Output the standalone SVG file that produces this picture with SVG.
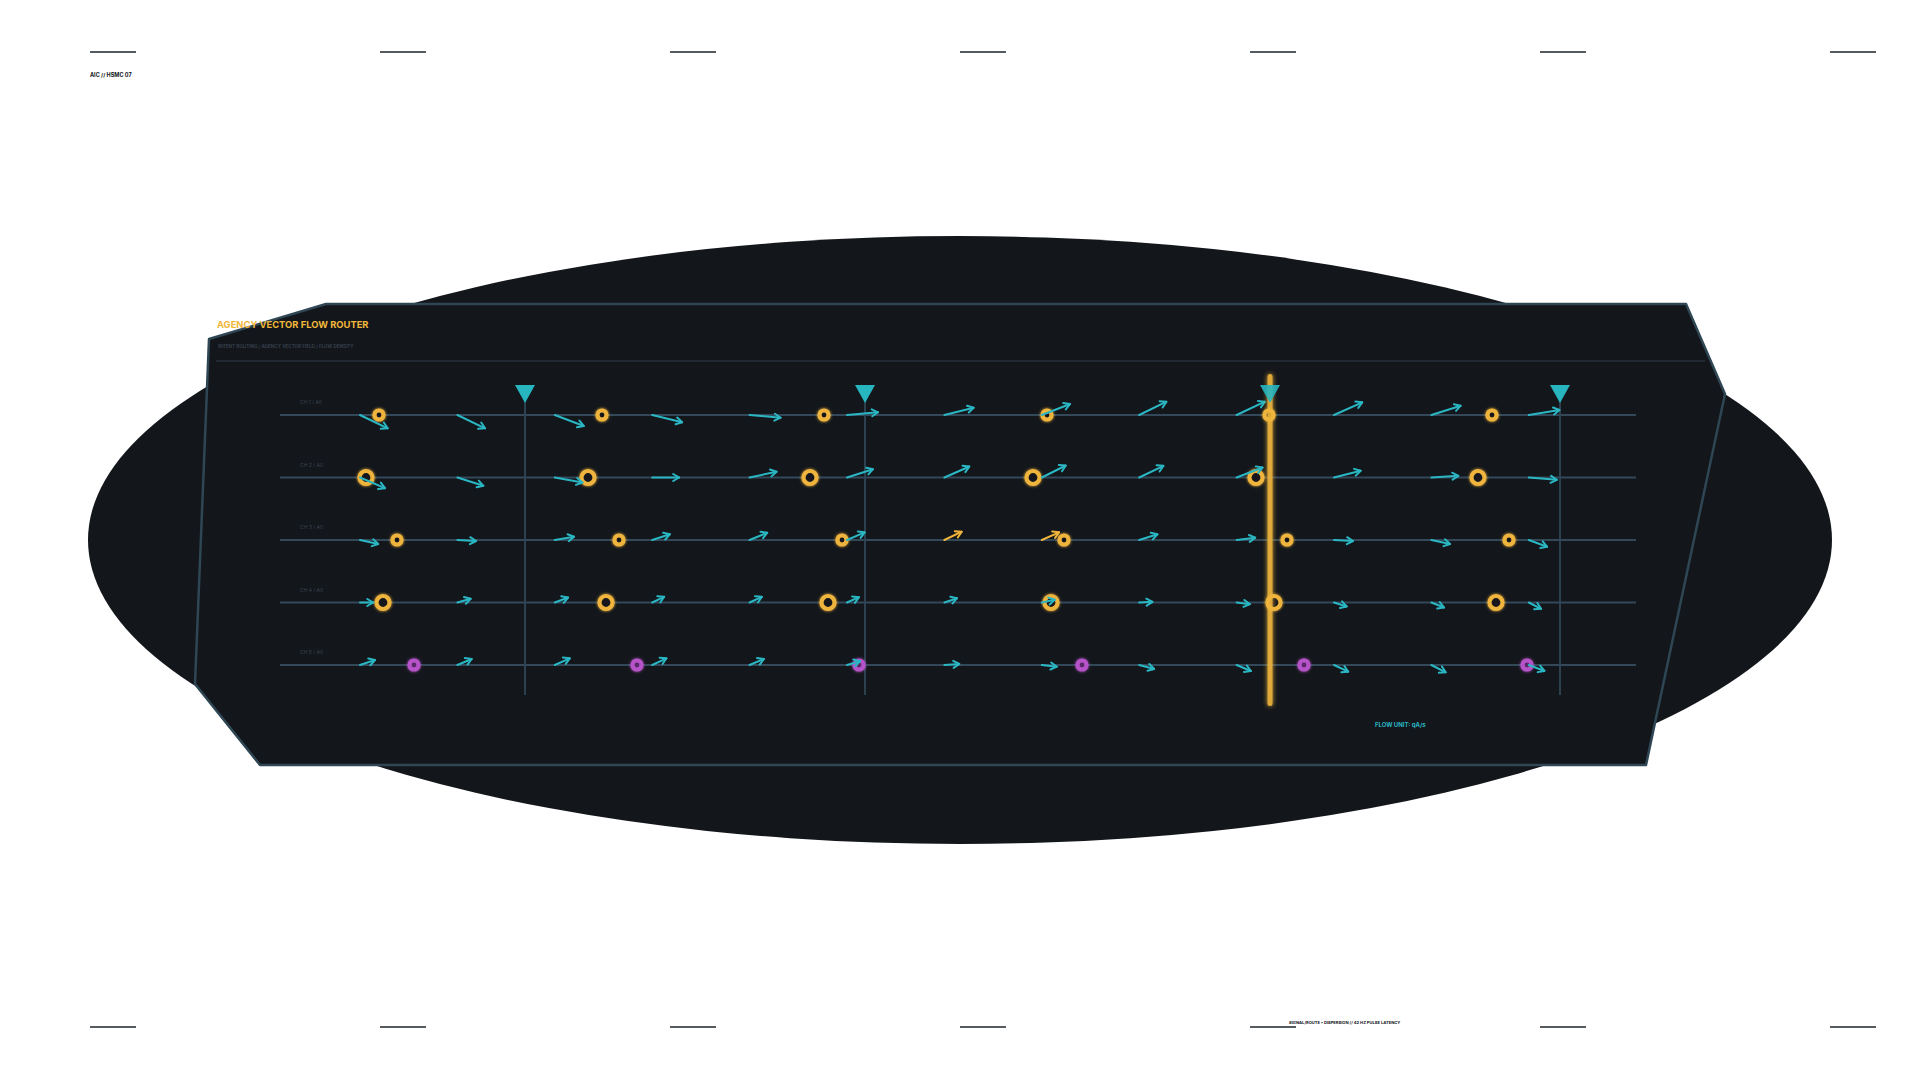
<svg xmlns="http://www.w3.org/2000/svg" width="1920" height="1080" viewBox="0 0 1920 1080">
<defs>
<style>
.tick{stroke:#1b2329;stroke-width:1.6}
.row{stroke:#33495a;stroke-width:2}
.bar{stroke:#2f4656;stroke-width:1.8}
.tri{fill:#27b5c0}
.av{stroke:#2ab7c3;stroke-width:2;fill:none;stroke-linecap:round;marker-end:url(#mt)}
.aa{stroke:#f0b53a;stroke-width:2;fill:none;stroke-linecap:round;marker-end:url(#ma)}
.ns{fill:#14171c;stroke:#efb43c;stroke-width:4.2}
.nl{fill:#14171c;stroke:#efb43c;stroke-width:4.2}
.np{fill:#5a2a68;stroke:#b653c9;stroke-width:4.2}
.lbl{font-family:Inter,'Liberation Sans',sans-serif;font-size:5px;fill:#3a4450}
.mono{font-family:Inter,'Liberation Sans',sans-serif;font-weight:700;fill:#0e1216}
</style>
<marker id="mt" markerUnits="userSpaceOnUse" markerWidth="10" markerHeight="10" viewBox="0 0 10 10" refX="9" refY="5" orient="auto"><path d="M3,1.5 L9,5 L3,8.5" fill="none" stroke="#2ab7c3" stroke-width="2" stroke-linecap="round" stroke-linejoin="round"/></marker>
<marker id="ma" markerUnits="userSpaceOnUse" markerWidth="10" markerHeight="10" viewBox="0 0 10 10" refX="9" refY="5" orient="auto"><path d="M3,1.5 L9,5 L3,8.5" fill="none" stroke="#f0b53a" stroke-width="2" stroke-linecap="round" stroke-linejoin="round"/></marker>
<filter id="glow" x="-50%" y="-50%" width="200%" height="200%"><feGaussianBlur stdDeviation="1.8" result="b"/><feMerge><feMergeNode in="b"/><feMergeNode in="SourceGraphic"/></feMerge></filter>
<filter id="glow2" filterUnits="userSpaceOnUse" x="1250" y="360" width="40" height="360"><feGaussianBlur stdDeviation="2.5" result="b"/><feMerge><feMergeNode in="b"/><feMergeNode in="SourceGraphic"/></feMerge></filter>
</defs>
<rect width="1920" height="1080" fill="#ffffff"/>
<g id="ticks">
<line class="tick" x1="90" y1="52" x2="136" y2="52"/><line class="tick" x1="380" y1="52" x2="426" y2="52"/><line class="tick" x1="670" y1="52" x2="716" y2="52"/><line class="tick" x1="960" y1="52" x2="1006" y2="52"/><line class="tick" x1="1250" y1="52" x2="1296" y2="52"/><line class="tick" x1="1540" y1="52" x2="1586" y2="52"/><line class="tick" x1="1830" y1="52" x2="1876" y2="52"/>
<line class="tick" x1="90" y1="1027" x2="136" y2="1027"/><line class="tick" x1="380" y1="1027" x2="426" y2="1027"/><line class="tick" x1="670" y1="1027" x2="716" y2="1027"/><line class="tick" x1="960" y1="1027" x2="1006" y2="1027"/><line class="tick" x1="1250" y1="1027" x2="1296" y2="1027"/><line class="tick" x1="1540" y1="1027" x2="1586" y2="1027"/><line class="tick" x1="1830" y1="1027" x2="1876" y2="1027"/>
</g>
<text class="mono" x="90" y="77" font-size="5.5">AIC // HSMC 07</text>
<text class="mono" x="1289" y="1024" font-size="4.1">SIGNAL/ROUTE • DISPERSION // 42 HZ PULSE LATENCY</text>
<ellipse cx="960" cy="540" rx="872" ry="304" fill="#13161b"/>
<g id="panel">
<polygon points="209,339 326,304 1686,304 1725,394 1646,765 260,765 195,684" fill="#13161b" stroke="#2f4654" stroke-width="2.5" stroke-linejoin="round"/>
<text x="217" y="328" font-family="Inter,'Liberation Sans',sans-serif" font-weight="700" font-size="9.4" fill="#f0b73a">AGENCY VECTOR FLOW ROUTER</text>
<text x="218" y="348" font-family="Inter,'Liberation Sans',sans-serif" font-weight="600" font-size="4.6" fill="#3a4450">INTENT ROUTING / AGENCY VECTOR FIELD / FLOW DENSITY</text>
<line x1="216" y1="361" x2="1705" y2="361" stroke="#28313b" stroke-width="1.5"/>
<text x="1375" y="727" font-family="Inter,'Liberation Sans',sans-serif" font-weight="700" font-size="6" fill="#2ab7c3">FLOW UNIT: qA/s</text>
</g>
<g id="rows">
<line class="row" x1="280" y1="415" x2="1636" y2="415"/>
<line class="row" x1="280" y1="477.5" x2="1636" y2="477.5"/>
<line class="row" x1="280" y1="540" x2="1636" y2="540"/>
<line class="row" x1="280" y1="602.5" x2="1636" y2="602.5"/>
<line class="row" x1="280" y1="665" x2="1636" y2="665"/>
<text class="lbl" x="300" y="404">CH 1 / A0</text>
<text class="lbl" x="300" y="466.5">CH 2 / A0</text>
<text class="lbl" x="300" y="529">CH 3 / A0</text>
<text class="lbl" x="300" y="591.5">CH 4 / A0</text>
<text class="lbl" x="300" y="654">CH 5 / A0</text>
</g>
<g id="bars">
<line class="bar" x1="525" y1="400" x2="525" y2="695"/>
<line class="bar" x1="865" y1="400" x2="865" y2="695"/>
<line class="bar" x1="1270" y1="400" x2="1270" y2="695"/>
<line class="bar" x1="1560" y1="400" x2="1560" y2="695"/>
<polygon class="tri" points="515,385 535,385 525,403"/>
<polygon class="tri" points="855,385 875,385 865,403"/>
<polygon class="tri" points="1550,385 1570,385 1560,403"/>
</g>
<g id="nodes" filter="url(#glow)">
<circle class="ns" cx="379" cy="415" r="4.5"/><circle class="ns" cx="602" cy="415" r="4.5"/><circle class="ns" cx="824" cy="415" r="4.5"/><circle class="ns" cx="1047" cy="415" r="4.5"/><circle class="ns" cx="1269" cy="415" r="4.5"/><circle class="ns" cx="1492" cy="415" r="4.5"/>
<circle class="nl" cx="366" cy="477.5" r="6.5"/><circle class="nl" cx="588" cy="477.5" r="6.5"/><circle class="nl" cx="810" cy="477.5" r="6.5"/><circle class="nl" cx="1033" cy="477.5" r="6.5"/><circle class="nl" cx="1256" cy="477.5" r="6.5"/><circle class="nl" cx="1478" cy="477.5" r="6.5"/>
<circle class="ns" cx="397" cy="540" r="4.5"/><circle class="ns" cx="619" cy="540" r="4.5"/><circle class="ns" cx="842" cy="540" r="4.5"/><circle class="ns" cx="1064" cy="540" r="4.5"/><circle class="ns" cx="1287" cy="540" r="4.5"/><circle class="ns" cx="1509" cy="540" r="4.5"/>
<circle class="nl" cx="383" cy="602.5" r="6.5"/><circle class="nl" cx="606" cy="602.5" r="6.5"/><circle class="nl" cx="828" cy="602.5" r="6.5"/><circle class="nl" cx="1051" cy="602.5" r="6.5"/><circle class="nl" cx="1274" cy="602.5" r="6.5"/><circle class="nl" cx="1496" cy="602.5" r="6.5"/>
<circle class="np" cx="414" cy="665" r="4.5"/><circle class="np" cx="637" cy="665" r="4.5"/><circle class="np" cx="859" cy="665" r="4.5"/><circle class="np" cx="1082" cy="665" r="4.5"/><circle class="np" cx="1304" cy="665" r="4.5"/><circle class="np" cx="1527" cy="665" r="4.5"/>
</g>
<g id="connectors">
<line class="av" x1="360" y1="415" x2="387.7" y2="428.3"/><line class="av" x1="457.4" y1="415" x2="485.1" y2="428.3"/><line class="av" x1="554.8" y1="415" x2="583.8" y2="426"/><line class="av" x1="652.2" y1="415" x2="682.2" y2="422.3"/><line class="av" x1="749.6" y1="415" x2="780.6" y2="417.7"/><line class="av" x1="847" y1="415" x2="878" y2="412.3"/><line class="av" x1="944.4" y1="415" x2="973.7" y2="407.7"/><line class="av" x1="1041.8" y1="415" x2="1070.1" y2="404"/><line class="av" x1="1139.2" y1="415" x2="1166.5" y2="401.7"/><line class="av" x1="1236.6" y1="415" x2="1264.9" y2="401.7"/><line class="av" x1="1334" y1="415" x2="1362.3" y2="402.3"/><line class="av" x1="1431.4" y1="415" x2="1460.7" y2="405.7"/><line class="av" x1="1528.8" y1="415" x2="1559.5" y2="410"/>
<line class="av" x1="360" y1="477.5" x2="385" y2="488.2"/><line class="av" x1="457.4" y1="477.5" x2="483.4" y2="485.8"/><line class="av" x1="554.8" y1="477.5" x2="582.5" y2="482.5"/><line class="av" x1="652.2" y1="477.5" x2="679.2" y2="477.5"/><line class="av" x1="749.6" y1="477.5" x2="776.6" y2="471.7"/><line class="av" x1="847" y1="477.5" x2="873" y2="469.2"/><line class="av" x1="944.4" y1="477.5" x2="969.4" y2="466.5"/><line class="av" x1="1041.8" y1="477.5" x2="1065.8" y2="465.5"/><line class="av" x1="1139.2" y1="477.5" x2="1163.5" y2="465.8"/><line class="av" x1="1236.6" y1="477.5" x2="1262.6" y2="467.5"/><line class="av" x1="1334" y1="477.5" x2="1360.7" y2="470.8"/><line class="av" x1="1431.4" y1="477.5" x2="1458.4" y2="475.8"/><line class="av" x1="1528.8" y1="477.5" x2="1556.8" y2="479.8"/>
<line class="av" x1="360" y1="540" x2="378.3" y2="544"/><line class="av" x1="457.4" y1="540" x2="476.1" y2="541"/><line class="av" x1="554.8" y1="540" x2="574.1" y2="536.7"/><line class="av" x1="652.2" y1="540" x2="669.9" y2="534.3"/><line class="av" x1="749.6" y1="540" x2="767.3" y2="532.7"/><line class="av" x1="847" y1="540" x2="864.7" y2="532.3"/><line class="aa" x1="944.4" y1="540" x2="961.7" y2="531.7"/><line class="aa" x1="1041.8" y1="540" x2="1059.1" y2="532.3"/><line class="av" x1="1139.2" y1="540" x2="1157.5" y2="534.3"/><line class="av" x1="1236.6" y1="540" x2="1255.3" y2="537.7"/><line class="av" x1="1334" y1="540" x2="1353" y2="541"/><line class="av" x1="1431.4" y1="540" x2="1450.1" y2="544"/><line class="av" x1="1528.8" y1="540" x2="1547.1" y2="546.7"/>
<line class="av" x1="360" y1="602.5" x2="373.3" y2="602.5"/><line class="av" x1="457.4" y1="602.5" x2="470.7" y2="598.8"/><line class="av" x1="554.8" y1="602.5" x2="568.1" y2="597.5"/><line class="av" x1="652.2" y1="602.5" x2="664.2" y2="596.8"/><line class="av" x1="749.6" y1="602.5" x2="761.9" y2="596.8"/><line class="av" x1="847" y1="602.5" x2="859" y2="597.2"/><line class="av" x1="944.4" y1="602.5" x2="957.1" y2="598.2"/><line class="av" x1="1041.8" y1="602.5" x2="1054.8" y2="599.8"/><line class="av" x1="1139.2" y1="602.5" x2="1152.5" y2="601.8"/><line class="av" x1="1236.6" y1="602.5" x2="1249.9" y2="604.2"/><line class="av" x1="1334" y1="602.5" x2="1346.7" y2="606.5"/><line class="av" x1="1431.4" y1="602.5" x2="1444.1" y2="607.5"/><line class="av" x1="1528.8" y1="602.5" x2="1541.1" y2="608.8"/>
<line class="av" x1="360" y1="665" x2="375" y2="660"/><line class="av" x1="457.4" y1="665" x2="471.7" y2="659"/><line class="av" x1="554.8" y1="665" x2="569.8" y2="658.3"/><line class="av" x1="652.2" y1="665" x2="666.5" y2="658.3"/><line class="av" x1="749.6" y1="665" x2="763.9" y2="659"/><line class="av" x1="847" y1="665" x2="860" y2="661.3"/><line class="av" x1="944.4" y1="665" x2="959.4" y2="664"/><line class="av" x1="1041.8" y1="665" x2="1056.8" y2="666.7"/><line class="av" x1="1139.2" y1="665" x2="1154.2" y2="669"/><line class="av" x1="1236.6" y1="665" x2="1250.9" y2="671"/><line class="av" x1="1334" y1="665" x2="1348.3" y2="671.7"/><line class="av" x1="1431.4" y1="665" x2="1445.7" y2="672.3"/><line class="av" x1="1528.8" y1="665" x2="1544.5" y2="671"/>
</g>
<g id="highlight">
<rect x="1267.5" y="374" width="5" height="332" rx="2.5" fill="#f0b53a" opacity="0.92" filter="url(#glow2)"/>
<polygon class="tri" points="1260,385 1280,385 1270,403" opacity="0.9"/>
</g>
</svg>
